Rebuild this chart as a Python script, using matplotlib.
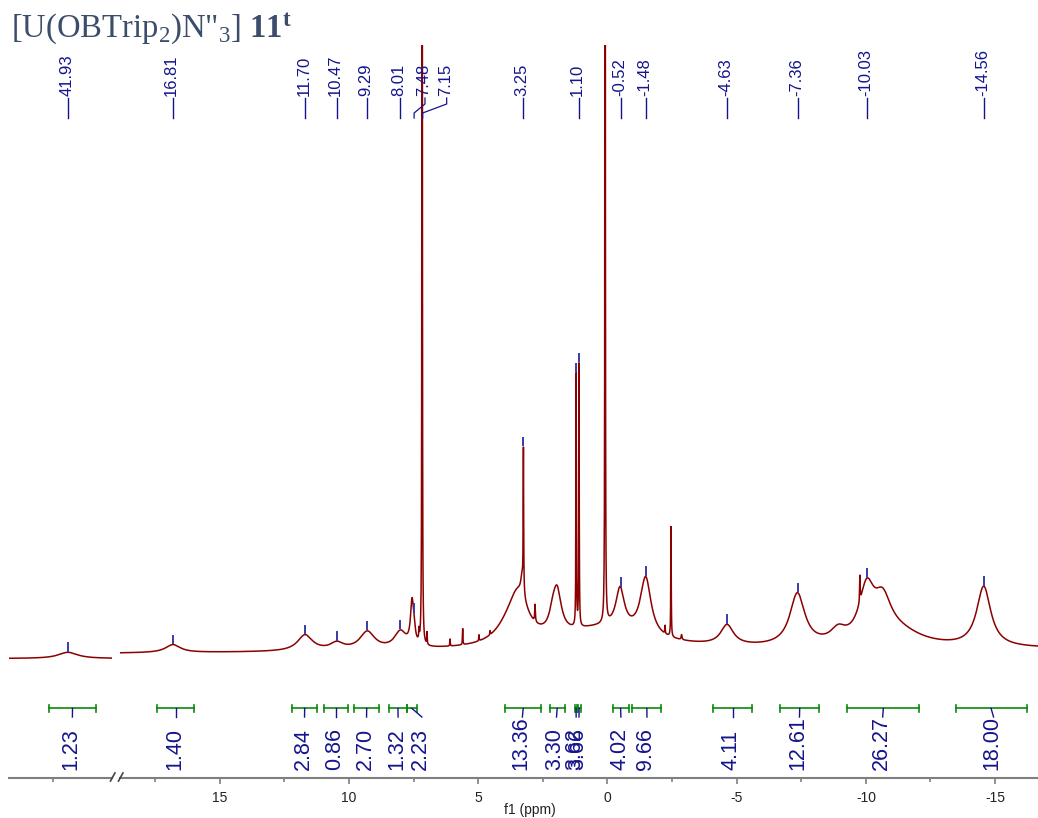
import numpy as np
import matplotlib
matplotlib.use("Agg")
import matplotlib.pyplot as plt
from matplotlib.lines import Line2D

plt.rcParams['axes.unicode_minus'] = False
plt.rcParams['mathtext.fontset'] = 'custom'
plt.rcParams['mathtext.rm'] = 'Liberation Serif'
plt.rcParams['mathtext.it'] = 'Liberation Serif:italic'
plt.rcParams['mathtext.bf'] = 'Liberation Serif:bold'

W, H, DPI = 1038, 818, 100

# ---------------- data ----------------
title_text = r'[U(OBTrip$_2$)N"$_3$] $\mathbf{11^{t}}$'

# left (break) segment
left_xlim = (44.20, 40.24)
left_peak_ppm = [41.93]
left_peak_height = [6.2]
left_peak_hwhm = [0.45]
left_baseline = -8.5

# main segment
right_xlim = (18.86, -16.66)
right_peak_ppm = [16.81, 11.70, 10.47, 9.29, 8.01, 7.56, 7.48, 7.29, 7.17, 6.98,
                  6.09, 5.60, 4.97, 4.54,
                  3.85, 3.45, 3.30, 3.25, 2.80, 2.12, 1.95, 1.21, 1.10, 0.09,
                  0.20, -0.49, -1.48, -2.23, -2.46, -2.87,
                  -4.63, -7.35, -8.93, -9.77, -10.03, -10.65, -11.20, -14.56]
right_peak_height = [8, 16, 7, 18, 17, 42, 12, 10, 2500, 12,
                     7, 16, 6, 4,
                     12, 45, 20, 140, 17, 12, 42, 252, 262, 2500,
                     21, 40, 58, 8, 110, 5,
                     20, 52, 12, 26, 50, 35, 15, 60]
right_peak_hwhm = [0.35, 0.35, 0.30, 0.35, 0.28, 0.07, 0.05, 0.012, 0.006, 0.01,
                   0.01, 0.01, 0.01, 0.01,
                   0.60, 0.45, 0.06, 0.01, 0.015, 0.15, 0.20, 0.01, 0.01, 0.006,
                   2.2, 0.20, 0.25, 0.01, 0.01, 0.02,
                   0.30, 0.35, 0.35, 0.012, 0.35, 0.40, 1.2, 0.33]
right_baseline = (-3.5, 1.0)

# peak picking labels
peak_labels = ["41.93", "16.81", "11.70", "10.47", "9.29", "8.01", "7.48", "7.15",
               "3.25", "1.10", "-0.52", "-1.48", "-4.63", "-7.36", "-10.03", "-14.56"]
peak_ppm = [41.93, 16.81, 11.70, 10.47, 9.29, 8.01, 7.48, 7.15,
            3.25, 1.10, -0.52, -1.48, -4.63, -7.36, -10.03, -14.56]
peak_label_ppm = [41.93, 16.81, 11.70, 10.47, 9.29, 8.01, 7.06, 6.22,
                  3.25, 1.10, -0.52, -1.48, -4.63, -7.36, -10.03, -14.56]
# peak-top markers
marker_ppm = [41.93, 16.81, 11.70, 10.47, 9.29, 8.01, 7.48,
              3.25, 1.21, 1.10, -0.52, -1.48, -4.63, -7.36, -10.03, -14.56]

# integrals
integral_values = ["1.23", "1.40", "2.84", "0.86", "2.70", "1.32", "2.23", "13.36",
                   "3.30", "3.62", "3.66", "4.02", "9.66", "4.11", "12.61", "26.27", "18.00"]
integral_from = [42.65, 17.41, 12.21, 10.96, 9.81, 8.45, 7.76, 3.96,
                 2.23, 1.26, 1.15, -0.20, -0.96, -4.10, -6.69, -9.28, -13.47]
integral_to = [40.86, 15.99, 11.22, 10.02, 8.82, 7.76, 7.38, 2.56,
               1.66, 1.17, 1.04, -0.82, -2.09, -5.60, -8.19, -12.07, -16.22]
integral_label_ppm = [41.76, 16.70, 11.72, 10.49, 9.32, 8.10, 7.18, 3.29,
                      1.97, 1.21, 1.10, -0.52, -1.53, -4.85, -7.43, -10.65, -14.94]

major_ticks = [15, 10, 5, 0, -5, -10, -15]
minor_ticks = [17.5, 12.5, 7.5, 2.5, -2.5, -7.5, -12.5]
left_minor_ticks = [42.5]

# ---------------- helpers ----------------
def spectrum(x, ppm, h, w):
    y = np.zeros_like(x)
    for p, a, s in zip(ppm, h, w):
        y += a / (1.0 + ((x - p) / s) ** 2)
    return y

SPEC = '#8b0000'
NAVY = '#14148c'
GREEN = '#0a8a0a'
GREY = '#7f7f7f'
AX_Y = 777.5      # axis line pixel row
TOP_Y = 45.0      # top of plotting area
Y0 = 650.0        # pixel row of zero intensity

def yd(ypx):
    return Y0 - ypx

fig = plt.figure(figsize=(W / DPI, H / DPI), dpi=DPI)

def rect(x0, x1):
    return [x0 / W, (H - AX_Y) / H, (x1 - x0) / W, (AX_Y - TOP_Y) / H]

axL = fig.add_axes(rect(9.3, 111.7))
axR = fig.add_axes(rect(120.0, 1038.0))

for ax, xl in ((axL, left_xlim), (axR, right_xlim)):
    ax.set_xlim(*xl)
    ax.set_ylim(yd(AX_Y), yd(TOP_Y))
    for s in ('top', 'left', 'right'):
        ax.spines[s].set_visible(False)
    ax.spines['bottom'].set_color(GREY)
    ax.spines['bottom'].set_linewidth(1.5)
    ax.set_yticks([])
    ax.patch.set_alpha(0)
    ax.tick_params(axis='x', which='major', length=4.5, width=1.2, color=GREY,
                   pad=5, labelsize=10, labelcolor='#222222')
    ax.tick_params(axis='x', which='minor', length=2.6, width=1.2, color=GREY)

axR.set_xticks(major_ticks)
axR.set_xticklabels([str(t) for t in major_ticks], family='Liberation Sans')
axR.set_xticks(minor_ticks, minor=True)
axL.set_xticks([])
axL.set_xticks(left_minor_ticks, minor=True)

# spectrum traces
def baseline_right(x):
    f = (right_xlim[0] - x) / (right_xlim[0] - right_xlim[1])
    return right_baseline[0] + f * (right_baseline[1] - right_baseline[0])

xl = np.arange(left_xlim[1], left_xlim[0], 0.002)
yl = left_baseline + spectrum(xl, left_peak_ppm, left_peak_height, left_peak_hwhm)
axL.plot(xl, yl, color=SPEC, lw=1.1)

xr = np.arange(right_xlim[1], right_xlim[0], 0.002)
yr = baseline_right(xr) + spectrum(xr, right_peak_ppm, right_peak_height, right_peak_hwhm)
axR.plot(xr, yr, color=SPEC, lw=1.1)

def curve_at(p):
    if p > 30:
        return left_baseline + spectrum(np.array([p]), left_peak_ppm, left_peak_height, left_peak_hwhm)[0]
    return baseline_right(p) + spectrum(np.array([p]), right_peak_ppm, right_peak_height, right_peak_hwhm)[0]

# peak labels
for lab, p, lp in zip(peak_labels, peak_ppm, peak_label_ppm):
    ax = axL if p > 30 else axR
    ax.text(lp + 0.05, yd(96), lab, rotation=90, ha='center', va='bottom',
            fontsize=12, color=NAVY, family='Liberation Sans', clip_on=False)
    if abs(lp - p) < 1e-6:
        ax.plot([p, p], [yd(98), yd(118)], color=NAVY, lw=1.0, clip_on=False)
    else:
        ax.plot([lp, lp, p, p], [yd(98), yd(104), yd(113), yd(118)],
                color=NAVY, lw=0.9, clip_on=False)

for p in marker_ppm:
    ax = axL if p > 30 else axR
    top = curve_at(p)
    ax.plot([p, p], [top + 1.5, top + 9], color='#3a3aa8', lw=1.4)

# integrals
for val, a, b, lp in zip(integral_values, integral_from, integral_to, integral_label_ppm):
    ax = axL if a > 30 else axR
    yb = yd(708.3)
    ax.plot([a, b], [yb, yb], color=GREEN, lw=1.2, clip_on=False)
    ax.plot([a, a], [yb - 3.5, yb + 3.5], color=GREEN, lw=1.2, clip_on=False)
    ax.plot([b, b], [yb - 3.5, yb + 3.5], color=GREEN, lw=1.2, clip_on=False)
    c = 0.5 * (a + b)
    ax.plot([c, lp], [yb, yd(717)], color=NAVY, lw=1.0, clip_on=False)
    ax.text(lp + 0.05, yd(770), val, rotation=90, ha='center', va='bottom',
            fontsize=15.5, color=NAVY, family='Liberation Sans', clip_on=False)

# axis break marks
for xb in (112.7, 120.7):
    fig.add_artist(Line2D([(xb - 2.2) / W, (xb + 2.2) / W],
                          [(H - 781) / H, (H - 773) / H],
                          color='#444444', lw=1.2, transform=fig.transFigure))

fig.text(530 / W, 1 - 810 / H, 'f1 (ppm)', ha='center', va='center',
         fontsize=10, family='Liberation Sans', color='#222222')

fig.text(11 / W, 1 - 37 / H, title_text, ha='left', va='baseline',
         fontsize=23.5, family='Liberation Serif', color='#3b4d6b')

fig.savefig('out.png', dpi=DPI)
